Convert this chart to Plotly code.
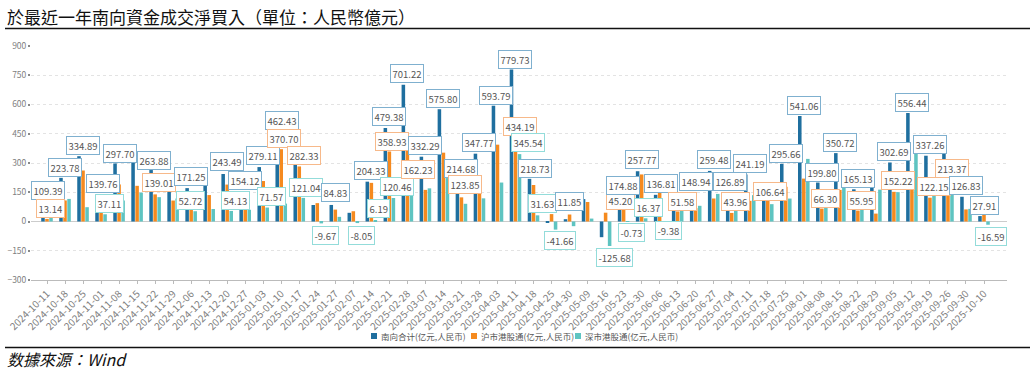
import plotly.graph_objects as go

categories = ["2024-10-11", "2024-10-18", "2024-10-25", "2024-11-01", "2024-11-08", "2024-11-15",
              "2024-11-22", "2024-11-29", "2024-12-06", "2024-12-13", "2024-12-20", "2024-12-27",
              "2025-01-03", "2025-01-10", "2025-01-17", "2025-01-24", "2025-01-27", "2025-02-07",
              "2025-02-14", "2025-02-21", "2025-02-28", "2025-03-07", "2025-03-14", "2025-03-21",
              "2025-03-28", "2025-04-03", "2025-04-11", "2025-04-18", "2025-04-25", "2025-04-30",
              "2025-05-09", "2025-05-16", "2025-05-23", "2025-05-30", "2025-06-06", "2025-06-13",
              "2025-06-20", "2025-06-27", "2025-07-04", "2025-07-11", "2025-07-18", "2025-07-25",
              "2025-08-01", "2025-08-08", "2025-08-15", "2025-08-22", "2025-08-29", "2025-09-05",
              "2025-09-12", "2025-09-19", "2025-09-26", "2025-09-30", "2025-10-10"]

south_total = [109.39, 223.78, 334.89, 139.76, 297.70, 331.20, 263.88, 225.30, 171.25, 199.60,
               243.49, 154.12, 279.11, 462.43, 403.37, 84.50, 84.83, 44.55, 204.33, 479.38,
               701.22, 332.29, 575.80, 214.68, 347.77, 593.79, 779.73, 218.73, -3.66, 11.85,
               115.00, -80.48, 174.88, 257.77, 136.81, 117.58, 148.94, 259.48, 126.89, 241.19,
               195.64, 295.66, 541.06, 199.80, 350.72, 165.13, 204.00, 302.69, 556.44, 337.26,
               403.00, 126.83, 27.91]

sh_connect = [13.14, 108.00, 261.50, 102.65, 190.00, 183.00, 139.01, 107.50, 118.53, 135.60,
              189.36, 94.00, 207.54, 370.70, 282.33, 94.17, 61.00, 52.60, 198.14, 358.93,
              387.00, 162.23, 353.00, 123.85, 229.00, 394.00, 434.19, 187.10, 38.00, 35.85,
              100.00, 45.20, 175.61, 241.40, 146.19, 51.58, 68.50, 118.00, 43.96, 106.00,
              106.64, 178.00, 220.00, 66.30, 162.00, 55.95, 40.50, 152.22, 182.00, 122.15,
              213.37, 62.00, 44.50]

sz_connect = [96.25, 115.78, 73.39, 37.11, 107.70, 148.20, 124.87, 117.80, 52.72, 64.00,
              54.13, 60.12, 71.57, 91.73, 121.04, -9.67, 23.83, -8.05, 6.19, 120.46,
              314.22, 170.06, 222.80, 90.83, 118.77, 199.79, 345.54, 31.63, -41.66, -24.00,
              15.00, -125.68, -0.73, 16.37, -9.38, 66.00, 80.44, 141.48, 82.93, 135.19,
              89.00, 117.66, 321.06, 133.50, 188.72, 109.18, 163.50, 150.47, 374.44, 215.11,
              189.63, 64.83, -16.59]

series_names = ["南向合计(亿元,人民币)", "沪市港股通(亿元,人民币)", "深市港股通(亿元,人民币)"]
y_ticks = [-300, -150, 0, 150, 300, 450, 600, 750, 900]

# data labels: (category index, series key, label y position, x shift px)
label_idx = [0, 0, 1, 2, 3, 3, 4, 6, 6, 8, 8, 10, 10, 11, 12, 12, 13, 13, 14, 14, 15, 16, 17,
             18, 18, 19, 19, 19, 20, 21, 21, 22, 23, 23, 24, 25, 26, 26, 26, 27, 27, 28, 29,
             31, 31, 32, 32, 33, 33, 34, 34, 35, 36, 37, 38, 38, 39, 40, 41, 42, 43, 43, 44,
             45, 45, 47, 47, 48, 49, 49, 50, 51, 52, 52]
label_series = ["t", "s", "t", "t", "t", "z", "t", "t", "s", "t", "z", "t", "z", "t", "t", "z",
                "t", "s", "s", "z", "z", "t", "z", "t", "z", "t", "s", "z", "t", "t", "s", "t",
                "t", "s", "t", "t", "t", "s", "z", "t", "z", "z", "t", "s", "z", "t", "z", "t",
                "z", "t", "z", "s", "t", "t", "t", "s", "t", "s", "t", "t", "t", "s", "t", "t",
                "s", "t", "s", "t", "t", "s", "s", "t", "t", "z"]
label_y = [160.8, 68.6, 276, 391, 196.6, 91.7, 347.7, 314.4, 199.2, 229.9, 109.6, 306.7, 109.6,
           212, 340, 130, 519, 424.5, 337.4, 176, -69.6, 148, -69.6, 260.6, 66, 539.7, 409,
           178.7, 757.3, 388.6, 268.3, 629.3, 270.9, 189, 406.6, 647.2, 831.5, 486, 404,
           270.9, 91.7, -97.8, 101.9, 107, -182.3, 183.8, -56.8, 317, 71.2, 196.6, -46.6,
           104.5, 204.3, 319.5, 206.9, 104.5, 296.5, 155.7, 347.7, 596, 253, 117.3, 406.6,
           222.2, 109.6, 357.9, 212, 611.4, 393.8, 181.3, 270.9, 183.8, 84, -74.8]
label_dx = [1, 3.5, 0, 0, 2, 8, 1, -1, 3.5, 0, -1, 0, 8, 0, 0, 8, 1, 3, 4.5, 7, 8, 0, 8,
            0, 7, 0, 3, 8, 0, 0, -7, 0, 0, 4, 0, -1, -1, 4, 12, 1, 9, 8, 0,
            14.5, 8.5, -1, 7.5, 0, 7, 1, 9, 5, 0, 0, -2, 4, 0, 2.5, 0, 0, 0, 4, 0,
            0, 4, 0, 4, 0, 0, 4, 4, 0, 0, 7]

colors = {"t": "#1f6f9f", "s": "#f58a1f", "z": "#5ec4c1"}
border = {"t": "#7fb0cf", "s": "#f7b98a", "z": "#93dcda"}
values = {"t": south_total, "s": sh_connect, "z": sz_connect}
keys = ["t", "s", "z"]

fig = go.Figure()
for key, name in zip(keys, series_names):
    fig.add_trace(go.Bar(x=categories, y=values[key], name=name, marker_color=colors[key],
                         marker_line_width=0, showlegend=False))

annotations = []
for i, k, yy, dx in zip(label_idx, label_series, label_y, label_dx):
    annotations.append(dict(
        x=categories[i], y=yy, xref="x", yref="y", xshift=dx,
        text=f"{values[k][i]:.2f}", showarrow=False,
        font=dict(size=9.5, color="#555555", family="Noto Sans CJK SC"),
        bgcolor="white", bordercolor=border[k], borderwidth=1, borderpad=1.5))

W, H = 1035, 376
plot_l, plot_r, plot_t, plot_b = 31, 1007, 46, 280
def px_x(p):
    return (p - plot_l) / (plot_r - plot_l)
def px_y(p):
    return (plot_b - p) / (plot_b - plot_t)

annotations.append(dict(
    x=px_x(5), y=px_y(16), xref="paper", yref="paper", xanchor="left", yanchor="middle",
    text="於最近一年南向資金成交淨買入（單位：人民幣億元）", showarrow=False,
    font=dict(size=17, color="#111111", family="Noto Sans CJK TC")))
annotations.append(dict(
    x=px_x(5), y=px_y(359), xref="paper", yref="paper", xanchor="left", yanchor="middle",
    text="<i>数據來源：Wind</i>", showarrow=False,
    font=dict(size=16, color="#111111", family="Noto Sans CJK TC")))

shapes = [
    dict(type="line", xref="paper", yref="paper", x0=px_x(5), x1=px_x(1030),
         y0=px_y(28.5), y1=px_y(28.5), line=dict(color="#111111", width=1.3)),
    dict(type="line", xref="paper", yref="paper", x0=px_x(5), x1=px_x(1030),
         y0=px_y(347.5), y1=px_y(347.5), line=dict(color="#111111", width=1.3)),
]

# custom legend: colored square keys with text
legend_x = [371, 471, 575]
for key, name, lx in zip(keys, series_names, legend_x):
    shapes.append(dict(type="rect", xref="paper", yref="paper",
                       x0=px_x(lx), x1=px_x(lx + 6), y0=px_y(339), y1=px_y(333),
                       fillcolor=colors[key], line=dict(width=0)))
    annotations.append(dict(
        x=px_x(lx + 8), y=px_y(336), xref="paper", yref="paper", xanchor="left",
        yanchor="middle", text=name, showarrow=False,
        font=dict(size=8.5, color="#555555", family="Noto Sans CJK SC")))

fig.update_layout(
    width=W, height=H,
    margin=dict(l=plot_l, r=W - plot_r, t=plot_t, b=H - plot_b, autoexpand=False),
    paper_bgcolor="white", plot_bgcolor="white",
    barmode="group", bargap=0.33, bargroupgap=0.12,
    font=dict(family="Noto Sans CJK SC", color="#666666"),
    showlegend=False,
    annotations=annotations, shapes=shapes,
)
fig.update_xaxes(type="category", tickangle=-45, tickfont=dict(size=10, color="#808080"),
                 showline=True, linecolor="#bbbbbb", linewidth=1, ticks="outside", ticklen=3,
                 tickcolor="#bbbbbb", showgrid=False, automargin=False)
fig.update_yaxes(range=[-300, 900], tickvals=y_ticks, tickfont=dict(size=8.5, color="#808080"),
                 showgrid=True, gridcolor="#e3e3e3", griddash="dot", gridwidth=1,
                 zeroline=True, zerolinecolor="#cccccc", zerolinewidth=1,
                 ticks="outside", ticklen=2, tickwidth=2, tickcolor="#888888",
                 showline=False, automargin=False)

fig.write_html("out.html", config={"displayModeBar": False},
               post_script="document.body.style.margin='0';")
